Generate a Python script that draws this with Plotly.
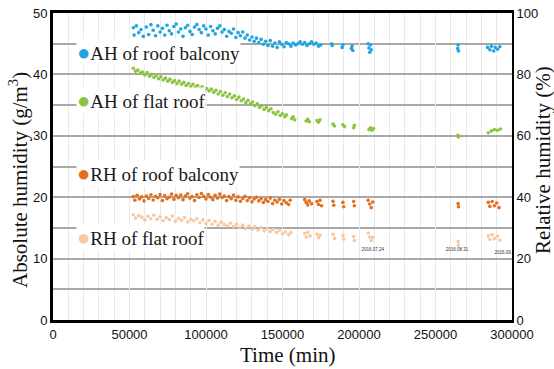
import plotly.graph_objects as go

# ---- measured series (time in minutes) ----
bal_ah_t = [52500, 53000, 54500, 56000, 57500, 59000, 61000, 62500, 64000, 65500, 67000, 68500,
            70000, 71500, 73000, 74500, 76000, 77500, 79000, 80500, 82000, 83500, 85000, 86500,
            88000, 89500, 91000, 92500, 94000, 95500, 97000, 98500, 100000, 101500, 103000, 104500,
            106000, 107500, 109000, 110500, 112000, 113500, 115000, 116500, 118000, 119500, 121000,
            122500, 124000, 125500, 127000, 128500, 130000, 131500, 133000, 134500, 136000, 137500,
            139000, 140500, 142000, 143500, 145000, 146500, 148000, 149500, 151000, 152500, 154000,
            155500, 157000, 158500, 160000, 161500, 163000, 164500, 166000, 167500, 169000, 170500,
            172000, 173500, 175000, 182000, 182500, 189000, 189500, 195000, 195500, 196000,
            206000, 206500, 207000, 207500, 208000, 264500, 264700, 265000,
            284000, 285500, 286500, 288000, 289000, 290500, 292000]
bal_ah = [47.6, 46.4, 47.9, 46.8, 47.3, 46.2, 47.7, 46.5, 48.1, 47.2, 46.3, 47.9,
          46.9, 47.5, 46.4, 48.0, 47.1, 46.6, 47.8, 48.2, 46.9, 47.4, 46.2, 47.6,
          48.0, 47.0, 46.5, 47.7, 48.1, 47.3, 46.8, 47.9, 47.4, 46.4, 47.8, 47.1,
          46.6, 47.5, 47.9, 46.9, 47.3, 46.2, 47.0, 46.7, 47.4, 46.0, 46.8,
          46.3, 46.9, 45.9, 46.4, 45.6, 46.1, 45.4, 45.9, 45.2, 45.7, 44.9,
          45.4, 44.7, 45.5, 44.6, 45.1, 44.4, 45.3, 44.9, 44.5, 45.2, 45.0,
          44.6, 45.1, 44.8, 45.0, 45.3, 44.9, 45.2, 44.7, 45.0, 45.3, 44.9,
          45.1, 44.6, 44.8, 45.0, 44.7, 44.4, 44.8, 44.2, 44.6, 43.9,
          45.0, 44.3, 43.6, 44.8, 44.0, 44.2, 44.8, 43.8,
          44.4, 44.0, 44.6, 43.8, 44.4, 44.1, 44.5]

flat_ah_t = [52500, 54000, 55500, 57000, 58500, 60000, 61500, 63000, 64500, 66000, 67500, 69000,
             70500, 72000, 73500, 75000, 76500, 78000, 79500, 81000, 82500, 84000, 85500, 87000,
             88500, 90000, 91500, 93000, 94500, 96000, 97500, 99000, 100500, 102000, 103500, 105000,
             106500, 108000, 109500, 111000, 112500, 114000, 115500, 117000, 118500, 120000, 121500,
             123000, 124500, 126000, 127500, 129000, 130500, 132000, 133500, 135000, 136500, 138000,
             139500, 141000, 142500, 144000, 145500, 147000, 148500, 150000, 151500, 152500,
             156000, 157000, 158000, 165500, 166500, 167500, 172500, 173500, 174500, 183000, 184000,
             189500, 190500, 196500, 197000, 206500, 207500, 208500, 209500, 264700, 265000,
             284500, 286500, 288500, 290500, 292500]
flat_ah = [41.0, 40.5, 40.7, 40.2, 40.4, 39.9, 40.3, 39.7, 40.0, 39.5, 39.8, 39.3,
           39.6, 39.1, 39.4, 38.9, 39.2, 38.7, 39.0, 38.5, 38.9, 38.4, 38.7, 38.2,
           38.5, 38.0, 38.4, 37.9, 38.2, 37.7, 38.0, 37.4, 37.7, 37.3, 37.6, 37.1,
           37.4, 36.8, 37.2, 36.6, 37.0, 36.4, 36.8, 36.2, 36.5, 35.9, 36.3,
           35.7, 36.0, 35.4, 35.8, 35.2, 35.5, 34.9, 35.2, 34.6, 34.9, 34.3,
           34.6, 34.1, 34.4, 33.8, 33.5, 33.9, 33.3, 33.6, 33.1, 33.4,
           32.8, 33.1, 32.6, 32.4, 32.7, 32.3, 32.5, 32.2, 32.6, 31.9, 31.6,
           31.8, 31.5, 31.3, 31.7, 31.0, 31.3, 30.9, 31.2, 30.1, 29.8,
           30.5, 30.8, 31.0, 30.9, 31.1]

bal_rh_t = [52500, 53500, 55000, 56500, 58000, 59500, 61000, 62500, 64000, 65500, 67000, 68500,
            70000, 71500, 73000, 74500, 76000, 77500, 79000, 80500, 82000, 83500, 85000, 86500,
            88000, 89500, 91000, 92500, 94000, 95500, 97000, 98500, 100000, 101500, 103000, 104500,
            106000, 107500, 109000, 110500, 112000, 113500, 115000, 116500, 118000, 119500, 121000,
            122500, 124000, 125500, 127000, 128500, 130000, 131500, 133000, 134500, 136000, 137500,
            139000, 140500, 142000, 143500, 145000, 146500, 148000, 149500, 151000, 152500, 154000,
            155000, 164500, 165500, 166500, 167500, 169000, 172500, 173500, 174500, 175500,
            183000, 183500, 189500, 190000, 196500, 197000, 206000, 207000, 208000, 209000,
            264800, 265000, 284500, 285500, 287000, 288500, 290000, 291500]
bal_rh = [40.2, 39.0, 40.6, 39.4, 40.1, 38.8, 40.4, 39.6, 40.8, 39.1, 40.3, 39.8,
          40.9, 38.9, 40.5, 39.5, 40.0, 41.0, 39.3, 40.6, 39.8, 40.7, 39.2, 40.4,
          41.1, 39.7, 40.2, 38.9, 40.8, 39.9, 41.2, 40.3, 39.4, 40.9, 40.0, 39.2,
          40.6, 39.7, 41.0, 39.9, 40.4, 38.9, 40.2, 39.5, 40.7, 39.0, 40.1,
          38.7, 39.6, 40.3, 38.9, 39.8, 38.5, 39.4, 40.0, 38.8, 39.5, 38.3,
          39.2, 38.6, 39.7, 37.9, 39.0, 38.4, 39.3, 37.8, 38.9, 38.2, 37.6,
          39.0, 39.2, 38.3, 37.5, 38.8, 37.9, 38.6, 37.6, 39.0, 37.2,
          38.7, 37.4, 38.3, 36.9, 38.6, 37.2, 39.0, 37.8, 36.6, 38.4,
          37.9, 36.9, 38.3, 37.0, 38.6, 37.2, 38.1, 36.6]

flat_rh_t = [52500, 54000, 56000, 58000, 60000, 62000, 64000, 66000, 68000, 70000, 72000, 74000,
             76000, 78000, 80000, 82000, 84000, 86000, 88000, 90000, 92000, 94000, 96000, 98000,
             100000, 102000, 104000, 106000, 108000, 110000, 112000, 114000, 116000, 118000, 120000,
             122000, 124000, 126000, 128000, 130000, 132000, 134000, 136000, 138000, 140000, 142000,
             144000, 146000, 148000, 150000, 152000, 154000, 155500, 164500, 165500, 166500, 168000,
             172500, 173500, 174500, 183000, 184000, 189500, 190000, 196500, 197000,
             206000, 207000, 208000, 209000, 264800, 265000,
             284500, 285500, 287000, 288500, 290500, 292000]
flat_rh = [34.3, 33.2, 34.0, 33.5, 32.6, 33.8, 33.0, 34.1, 32.8, 33.6, 32.4, 33.3,
           32.7, 33.9, 32.2, 33.1, 32.5, 33.4, 31.9, 32.8, 32.3, 33.0, 31.7, 32.6,
           31.4, 32.4, 31.2, 32.1, 30.9, 31.8, 31.1, 30.6, 31.5, 30.4, 31.2,
           30.1, 30.9, 29.8, 30.6, 29.6, 30.4, 29.3, 30.1, 29.0, 29.8, 28.8,
           29.5, 28.5, 29.2, 28.1, 28.7, 27.8, 28.5, 28.2, 27.0, 28.6, 27.4,
           28.0, 26.8, 27.6, 27.9, 26.6, 27.5, 26.3, 27.2, 25.9,
           28.3, 27.0, 25.8, 26.9, 25.6, 24.4,
           27.4, 26.2, 27.8, 26.5, 27.3, 26.0]

# date stamps printed under the later clusters (AH axis units)
stamp_t = [209000, 264000, 296000]
stamp_y = [11.4, 11.4, 11.0]
stamp_text = ["2016.07.24", "2016.08.31", "2016.09.28"]

x_ticks = [0, 50000, 100000, 150000, 200000, 250000, 300000]

C_BAL_AH = "#1FA5E1"
C_FLAT_AH = "#8CC43F"
C_BAL_RH = "#E4701E"
C_FLAT_RH = "#F8C8A2"

fig = go.Figure()

fig.add_trace(go.Scatter(x=flat_rh_t, y=flat_rh, mode="markers", yaxis="y2",
                         marker=dict(size=3.6, color=C_FLAT_RH), name="RH of flat roof"))
fig.add_trace(go.Scatter(x=bal_rh_t, y=bal_rh, mode="markers", yaxis="y2",
                         marker=dict(size=3.6, color=C_BAL_RH), name="RH of roof balcony"))
fig.add_trace(go.Scatter(x=flat_ah_t, y=flat_ah, mode="markers",
                         marker=dict(size=3.6, color=C_FLAT_AH), name="AH of flat roof"))
fig.add_trace(go.Scatter(x=bal_ah_t, y=bal_ah, mode="markers",
                         marker=dict(size=3.6, color=C_BAL_AH), name="AH of roof balcony"))
fig.add_trace(go.Scatter(x=stamp_t, y=stamp_y, mode="text", text=stamp_text, cliponaxis=True,
                         textfont=dict(size=4.5, color="#333333", family="Liberation Sans"),
                         showlegend=False, hoverinfo="skip"))

tick_font = dict(family="Liberation Sans Narrow, Liberation Sans, Arial", size=13, color="#111111")
serif = "Liberation Serif, DejaVu Serif, Noto Serif, serif"

fig.update_layout(
    width=554, height=369,
    margin=dict(l=53, r=42, t=13, b=49, autoexpand=False),
    paper_bgcolor="white", plot_bgcolor="white",
    showlegend=False,
    xaxis=dict(range=[0, 300000], tickvals=x_ticks, ticktext=[str(v) for v in x_ticks],
               tickfont=tick_font, ticks="", showline=True, linecolor="black", linewidth=3,
               mirror=True, showgrid=True, gridcolor="#E9E9E9", gridwidth=1,
               minor=dict(dtick=10000, showgrid=True, gridcolor="#E9E9E9", gridwidth=1),
               zeroline=False, automargin=False),
    yaxis=dict(range=[0, 50], dtick=10, tickfont=tick_font, ticks="",
               showline=True, linecolor="black", linewidth=3,
               showgrid=True, gridcolor="#A8A8A8", gridwidth=2,
               minor=dict(dtick=5, showgrid=True, gridcolor="#A8A8A8", gridwidth=2),
               zeroline=False, automargin=False),
    yaxis2=dict(range=[0, 100], dtick=20, tickfont=tick_font, ticks="", overlaying="y",
                side="right", showline=True, linecolor="black", linewidth=2,
                showgrid=False, zeroline=False, automargin=False),
)

legend_rows = [
    (C_BAL_AH, "AH of roof balcony", 0.870),
    (C_FLAT_AH, "AH of flat roof", 0.714),
    (C_BAL_RH, "RH of roof balcony", 0.476),
    (C_FLAT_RH, "RH of flat roof", 0.270),
]
for color, label, ypos in legend_rows:
    fig.add_annotation(xref="paper", yref="paper", x=0.050, y=ypos, xanchor="left",
                       yanchor="middle", showarrow=False, bgcolor="white", borderpad=0,
                       text=f'<span style="color:{color};font-size:22px">●</span>{label}',
                       font=dict(family=serif, size=19, color="#1a1a1a"))

fig.add_annotation(xref="paper", yref="paper", x=-0.0763, y=0.456, textangle=-90,
                   xanchor="center", yanchor="middle", showarrow=False,
                   text="Absolute humidity (g/m<sup>3</sup>)",
                   font=dict(family=serif, size=21, color="#111111"))
fig.add_annotation(xref="paper", yref="paper", x=1.0675, y=0.521, textangle=-90,
                   xanchor="center", yanchor="middle", showarrow=False,
                   text="Relative humidity (%)",
                   font=dict(family=serif, size=21, color="#111111"))
fig.add_annotation(xref="paper", yref="paper", x=0.51, y=-0.114,
                   xanchor="center", yanchor="middle", showarrow=False,
                   text="Time (min)", font=dict(family=serif, size=21, color="#111111"))

fig.write_html("out.html")
